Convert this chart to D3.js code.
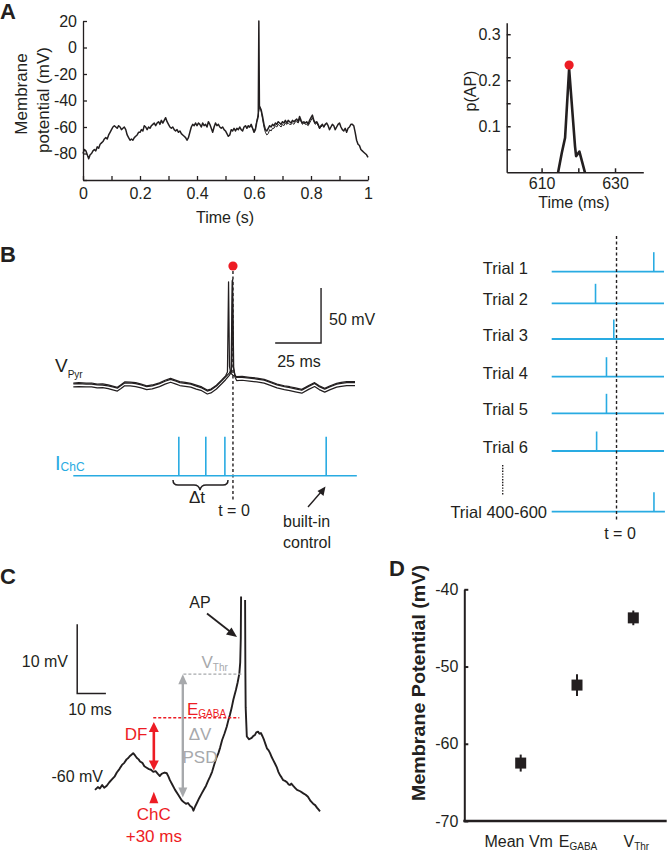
<!DOCTYPE html>
<html><head><meta charset="utf-8">
<script src="https://cdn.jsdelivr.net/npm/d3@7"></script>
<style>
body{margin:0;background:#fff}
svg{display:block}
text{font-family:"Liberation Sans",Arial,sans-serif}
</style>
</head><body>
<svg id="chart" width="668" height="853"></svg>
<script>
// ---------------- DATA ----------------
// Panel A (left): membrane potential traces, [time (s), mV]
const traceA1 = [[0,-80],[0.005,-77],[0.01,-78],[0.015,-81],[0.02,-84],[0.025,-81],[0.03,-80],[0.035,-78],[0.04,-77],[0.045,-78],[0.05,-75],[0.055,-76],[0.06,-73],[0.065,-72],[0.07,-71],[0.075,-69],[0.08,-68],[0.085,-69],[0.09,-66],[0.095,-64],[0.1,-62],[0.105,-60],[0.11,-59],[0.115,-60],[0.12,-61],[0.125,-59],[0.13,-60],[0.135,-62],[0.14,-61],[0.145,-60],[0.15,-62],[0.155,-66],[0.16,-68],[0.165,-70],[0.17,-69],[0.175,-70],[0.18,-68],[0.185,-67],[0.19,-66],[0.195,-64],[0.2,-64],[0.205,-62],[0.21,-63],[0.215,-59],[0.22,-60],[0.225,-62],[0.23,-60],[0.235,-61],[0.24,-59],[0.245,-58],[0.25,-57],[0.255,-59],[0.26,-57],[0.265,-56],[0.27,-58],[0.275,-55],[0.28,-57],[0.285,-55],[0.29,-53],[0.295,-56],[0.3,-58],[0.305,-60],[0.31,-61],[0.315,-60],[0.32,-62],[0.325,-63],[0.33,-62],[0.335,-64],[0.34,-63],[0.345,-65],[0.35,-66],[0.355,-67],[0.36,-68],[0.365,-70],[0.37,-68],[0.375,-64],[0.38,-60],[0.385,-58],[0.39,-59],[0.395,-57],[0.4,-59],[0.405,-57],[0.41,-58],[0.415,-60],[0.42,-57],[0.425,-59],[0.43,-58],[0.435,-60],[0.44,-56],[0.445,-58],[0.45,-61],[0.455,-64],[0.46,-60],[0.465,-57],[0.47,-59],[0.475,-58],[0.48,-60],[0.485,-61],[0.49,-60],[0.495,-62],[0.5,-63],[0.505,-65],[0.51,-67],[0.515,-66],[0.52,-62],[0.525,-63],[0.53,-61],[0.535,-63],[0.54,-61],[0.545,-62],[0.55,-60],[0.555,-62],[0.56,-63],[0.565,-60],[0.57,-59],[0.575,-61],[0.58,-59],[0.585,-60],[0.59,-58],[0.595,-61],[0.6,-64],[0.605,-62],[0.61,-56],[0.615,-52],[0.617,20],[0.619,-44],[0.625,-47],[0.63,-52],[0.635,-58],[0.64,-62],[0.645,-63],[0.65,-61],[0.655,-59],[0.66,-60],[0.665,-58],[0.67,-59],[0.675,-57],[0.68,-58],[0.685,-56],[0.69,-57],[0.695,-58],[0.7,-56],[0.705,-57],[0.71,-55],[0.715,-57],[0.72,-55],[0.725,-56],[0.73,-57],[0.735,-55],[0.74,-56],[0.745,-55],[0.75,-54],[0.755,-56],[0.76,-52],[0.765,-55],[0.77,-57],[0.775,-56],[0.78,-57],[0.785,-56],[0.79,-58],[0.795,-55],[0.8,-53],[0.805,-51],[0.81,-55],[0.815,-57],[0.82,-56],[0.825,-58],[0.83,-61],[0.835,-59],[0.84,-58],[0.845,-60],[0.85,-58],[0.855,-57],[0.86,-59],[0.865,-62],[0.87,-60],[0.875,-58],[0.88,-59],[0.885,-62],[0.89,-60],[0.895,-58],[0.9,-57],[0.905,-60],[0.91,-62],[0.915,-63],[0.92,-61],[0.925,-64],[0.93,-61],[0.935,-60],[0.94,-58],[0.945,-58],[0.95,-59],[0.955,-64],[0.96,-70],[0.965,-73],[0.97,-74],[0.975,-77],[0.98,-78],[0.985,-79],[0.99,-80],[0.995,-81],[1,-83]];
const traceA2 = [[0.58,-60],[0.585,-60],[0.59,-59],[0.595,-61],[0.6,-63],[0.605,-61],[0.61,-55],[0.615,-50],[0.62,-45],[0.625,-48],[0.63,-54],[0.635,-60],[0.64,-64],[0.645,-66],[0.65,-65],[0.655,-62],[0.66,-63],[0.665,-61],[0.67,-61],[0.675,-59],[0.68,-60],[0.685,-58],[0.69,-59],[0.695,-60],[0.7,-58],[0.705,-59],[0.71,-57],[0.715,-58],[0.72,-57],[0.725,-58],[0.73,-58],[0.735,-57],[0.74,-58],[0.745,-56],[0.75,-56],[0.755,-57],[0.76,-54],[0.765,-56],[0.77,-58],[0.775,-57],[0.78,-58],[0.785,-58],[0.79,-59],[0.795,-57],[0.8,-55],[0.805,-53],[0.81,-56],[0.815,-58],[0.82,-57],[0.825,-59],[0.83,-61],[0.835,-60],[0.84,-59],[0.845,-60],[0.85,-58]];
const ticksAx = [0,0.1,0.2,0.3,0.4,0.5,0.6,0.7,0.8,0.9,1];
const ticksAy = [-100,-80,-60,-40,-20,0,20];

// Panel A (right): spike probability
const pTime = [614.5,615.5,616.4,617.5,619.1,619.4,620.3,621.8];
const pAP   = [0,0.042,0.075,0.225,0.057,0.035,0.045,0];
const pPeak = [617.5,0.233];
const ticksPx = [610,620,630];
const ticksPy = [0.05,0.1,0.15,0.2,0.25,0.3];

// Panel B: pyramidal cell traces [ms, mV]
const pyr1 = [[-87,-65],[-84,-64.6],[-80,-65.2],[-77,-65],[-74,-66],[-71,-65.8],[-68,-66.8],[-65,-68],[-63,-68.9],[-61,-66.5],[-59,-64],[-56,-64.2],[-53,-64.7],[-50,-66],[-47,-67.6],[-44,-66.8],[-40,-64.8],[-37,-62.5],[-34,-60.8],[-31,-62.6],[-29,-63.8],[-26,-64.5],[-23,-65.3],[-20,-67],[-17,-68.6],[-14,-71.5],[-12,-70.5],[-9,-67],[-6,-62],[-4,-58.5],[-3,-55],[-2.4,27],[-1.9,-50],[-1.2,-56],[0,-58],[2,-59.3],[5,-59],[9,-59.8],[13,-60.5],[17,-61.6],[20,-63.5],[24,-66],[28,-67.5],[31,-68.4],[34,-69.5],[37.5,-70.8],[41,-67.5],[44.5,-64.7],[47,-67.5],[50,-69.8],[53,-67.5],[56.5,-65.3],[59,-64.5],[62,-63.8],[66.5,-63.8]];
const pyr2 = [[-87,-68.5],[-84,-68.2],[-80,-68.6],[-77,-68.5],[-74,-69.4],[-71,-69.3],[-68,-70.2],[-65,-71.5],[-63,-72.3],[-61,-70],[-59,-67.5],[-56,-67.6],[-53,-68.2],[-50,-69.4],[-47,-71],[-44,-70.3],[-40,-68.3],[-37,-66],[-34,-64.3],[-31,-66],[-29,-67.3],[-26,-68],[-23,-68.8],[-20,-70.5],[-17,-72],[-14,-75],[-12,-74],[-9,-70.5],[-6,-65.5],[-4,-62],[-2,-58],[-0.8,-55],[-0.2,29],[0.4,-52],[1.2,-60],[2,-62.8],[5,-62.5],[9,-63.3],[13,-64],[17,-65.1],[20,-67],[24,-69.5],[28,-71],[31,-71.9],[34,-73],[37.5,-74.3],[41,-71],[44.5,-68.2],[47,-71],[50,-73.3],[53,-71],[56.5,-68.8],[59,-68],[62,-67.3],[66.5,-67.3]];
const pyr3 = [[-87,-65.8],[-84,-65.6],[-80,-66],[-77,-66],[-74,-66.8],[-71,-66.9],[-68,-67.6],[-65,-68.8],[-63,-69.7],[-61,-67.3],[-59,-65],[-56,-65],[-53,-65.6],[-50,-66.8],[-47,-68.4],[-44,-67.6],[-40,-65.6],[-37,-63.4],[-34,-61.7],[-31,-63.4],[-29,-64.6],[-26,-65.3],[-23,-66.1],[-20,-67.8],[-17,-69.4],[-14,-72.3],[-12,-71.3],[-9,-67.8],[-6,-62.8],[-4,-59.3],[-2,-56],[-1,-53],[-0.4,28],[0.2,-50],[1,-57],[2,-60],[5,-59.8],[9,-60.6],[13,-61.4],[17,-62.4],[20,-64.3],[24,-66.8],[28,-68.3],[31,-69.2],[34,-70.3],[37.5,-71.6],[41,-68.3],[44.5,-65.5],[47,-68.3],[50,-70.6],[53,-68.3],[56.5,-66.1],[59,-65.3],[62,-64.6],[66.5,-64.6]];
const chcPulses = [-29.5,-14.8,-4.4,50.8];   // ms
const trialNames = ["Trial 1","Trial 2","Trial 3","Trial 4","Trial 5","Trial 6","Trial 400-600"];
const trialPulses = [20.4,-11.5,-1.5,-5.5,-5.5,-10.9,20.5]; // ms relative to AP

// Panel C: example trace [ms, mV]; null = gap at clipped spike top
const traceC = [[0,-61.9],[1,-61.5],[1.7,-61.7],[2.5,-61.2],[3.2,-61.6],[4.1,-61.3],[5,-60.8],[5.9,-60.4],[6.8,-60.0],[7.6,-59.4],[8.5,-58.9],[9.4,-58.3],[10.2,-58.0],[11,-57.5],[11.6,-57.3],[12.2,-57.0],[12.8,-56.8],[13.3,-56.6],[13.9,-56.9],[14.6,-57.3],[15.2,-57.5],[15.7,-57.8],[16.5,-58.0],[17.2,-58.5],[18,-58.7],[18.8,-58.9],[19.5,-59.0],[20.3,-59.3],[21.1,-59.2],[21.9,-59.6],[22.6,-59.9],[23.2,-59.6],[23.7,-59.5],[24.3,-59.4],[25,-59.5],[25.6,-60],[26.1,-60.5],[27,-61.2],[27.9,-61.9],[29,-62.6],[30.2,-63.4],[31,-63.7],[31.7,-63.9],[32.4,-63.8],[33.1,-64.2],[33.8,-64.4],[34.3,-64.9],[34.9,-64.3],[35.5,-63.8],[36.3,-63.1],[37.2,-62.4],[38,-61.8],[38.7,-61.3],[39.4,-60.6],[40.1,-60],[40.8,-59.3],[41.5,-58.3],[42.2,-57.4],[43,-56.6],[43.6,-55.8],[44.3,-54.7],[45.1,-53.8],[45.9,-52.8],[46.5,-51.8],[47,-51.1],[47.6,-50.1],[48.2,-48.9],[48.7,-48.1],[49.1,-47.5],[49.7,-46.4],[50.3,-45.1],[50.6,-43.5],[50.8,-40],[50.9,-34],null,[52.3,-34.5],[52.4,-45],[52.5,-50],[52.9,-54.2],[53.7,-54.6],[54.6,-54.4],[55.2,-54.1],[55.7,-54],[56.2,-53.6],[56.8,-53.5],[57.3,-53.8],[57.8,-53.7],[58.4,-54.2],[58.9,-54.7],[59.4,-55.3],[59.9,-55.9],[60.5,-56.2],[61,-56.6],[61.6,-57.2],[62.1,-57.6],[62.7,-58.1],[63.4,-58.7],[63.9,-59.3],[64.5,-59.8],[65,-60.1],[65.6,-60.5],[66.2,-60.6],[66.9,-60.8],[67.4,-61.1],[67.9,-61.2],[68.4,-61.0],[69,-61.3],[69.7,-61.6],[70.4,-61.9],[71.5,-62.1],[72.6,-62.4],[73.4,-62.6],[74.2,-62.9],[75.1,-63.5],[76,-63.9],[76.7,-64.1],[77.4,-64.5],[78,-64.8],[78.4,-65]];
const cEgaba = -51.5, cVthr = -45.2, cChC = 20.5;

// Panel D
const dCats  = ["Mean Vm","E_GABA","V_Thr"];
const dMeans = [-62.5,-52.4,-43.7];
const dErr   = [1.1,1.4,0.95];
const ticksDy = [-70,-60,-50,-40];

// ---------------- DRAW ----------------
const K="#231f20", CY="#29abe2", RED="#ed1c24", GR="#a7a9ac";
const svg = d3.select("#chart");
svg.append("rect").attr("width",668).attr("height",853).attr("fill","#fff");

function label(x,y,t){svg.append("text").attr("x",x).attr("y",y).attr("font-size",22).attr("font-weight","bold").attr("fill",K).text(t);}
label(0,19,"A"); label(0,262,"B"); label(0,584,"C"); label(389,576,"D");

function subText(g,x,y,main,sb,o){
  const t=g.append("text").attr("x",x).attr("y",y).attr("font-size",o.size).attr("fill",o.fill||K)
    .attr("text-anchor",o.anchor||"start");
  t.append("tspan").attr("fill",o.fill||K).text(main);
  t.append("tspan").attr("fill",o.fill||K).attr("font-size",o.sub).attr("dy",o.dy).text(sb);
  return t;
}
function txt(g,x,y,s,o={}){
  return g.append("text").attr("x",x).attr("y",y).attr("font-size",o.size||16)
    .attr("text-anchor",o.anchor||"start").attr("fill",o.fill||K).text(s);
}
function styleAxis(g,w){
  g.selectAll("path.domain").attr("stroke",K).attr("stroke-width",w);
  g.selectAll(".tick line").attr("stroke",K).attr("stroke-width",w);
  g.selectAll(".tick text").attr("fill",K).attr("font-size",16).attr("font-family","Liberation Sans, Arial, sans-serif");
}
function tri(g,x,yApex,dir,h,hw,fill){ // dir -1 pointing up, +1 pointing down
  g.append("path").attr("d",`M${x},${yApex} L${x-hw},${yApex-dir*h} L${x+hw},${yApex-dir*h} Z`).attr("fill",fill);
}

// ---- Panel A left
const gA = svg.append("g");
const xA = d3.scaleLinear().domain([0,1]).range([83,368]);
const yA = d3.scaleLinear().domain([-100,20]).range([180,21]);
const axAx = gA.append("g").attr("transform","translate(0,180)")
  .call(d3.axisBottom(xA).tickValues(ticksAx).tickSize(-4).tickSizeOuter(0).tickPadding(8)
  .tickFormat(d=>Math.round(d*10)%2===0?String(+d.toFixed(1)):""));
styleAxis(axAx,1.3);
const axAy = gA.append("g").attr("transform","translate(83,0)")
  .call(d3.axisLeft(yA).tickValues(ticksAy).tickSize(-4).tickSizeOuter(0).tickPadding(6)
  .tickFormat(d=>d===-100?"":String(d)));
styleAxis(axAy,1.3);
const lineA = d3.line().x(d=>xA(d[0])).y(d=>yA(d[1]));
gA.append("path").datum(traceA2).attr("d",lineA).attr("fill","none").attr("stroke",K).attr("stroke-width",1);
gA.append("path").datum(traceA1).attr("d",lineA).attr("fill","none").attr("stroke",K).attr("stroke-width",1.5).attr("stroke-linejoin","round");
gA.append("text").attr("transform","translate(27,94) rotate(-90)").attr("text-anchor","middle").attr("font-size",17).attr("fill",K).text("Membrane");
gA.append("text").attr("transform","translate(49,100) rotate(-90)").attr("text-anchor","middle").attr("font-size",17).attr("fill",K).text("potential (mV)");
txt(gA,225,223,"Time (s)",{anchor:"middle"});

// ---- Panel A right
const gP = svg.append("g");
const xP = d3.scaleLinear().domain([600.5,637.7]).range([506.7,643.3]);
const yP = d3.scaleLinear().domain([0,0.325]).range([172.3,22.7]);
const axPx = gP.append("g").attr("transform","translate(0,172.3)")
  .call(d3.axisBottom(xP).tickValues(ticksPx).tickSize(-4).tickSizeOuter(0).tickPadding(5)
  .tickFormat(d=>d===620?"":String(d)));
styleAxis(axPx,1.5);
const axPy = gP.append("g").attr("transform","translate(506.7,0)")
  .call(d3.axisLeft(yP).tickValues(ticksPy).tickSize(-4).tickSizeOuter(0).tickPadding(6)
  .tickFormat(d=>Math.round(d*100)%10===0?d.toFixed(1):""));
styleAxis(axPy,1.5);
gP.append("path").datum(pTime.map((t,i)=>[t,pAP[i]]))
  .attr("d",d3.line().x(d=>xP(d[0])).y(d=>yP(d[1])))
  .attr("fill","none").attr("stroke",K).attr("stroke-width",2.6).attr("stroke-linejoin","round");
gP.append("circle").attr("cx",xP(pPeak[0])).attr("cy",yP(pPeak[1])).attr("r",4.6).attr("fill",RED);
gP.append("text").attr("transform","translate(475.5,91) rotate(-90)").attr("text-anchor","middle").attr("font-size",16).attr("fill",K).text("p(AP)");
txt(gP,574,208,"Time (ms)",{anchor:"middle"});

// ---- Panel B left
const gB = svg.append("g");
const xB = d3.scaleLinear().domain([-87,66.5]).range([73.3,355]);
const yB = d3.scaleLinear().domain([-65,28]).range([383,280.7]);
const lineB = d3.line().x(d=>xB(d[0])).y(d=>yB(d[1]));
[pyr2,pyr3,pyr1].forEach(tr=>{
  gB.append("path").datum(tr).attr("d",lineB).attr("fill","none").attr("stroke",K).attr("stroke-width",1.25).attr("stroke-linejoin","round");
});
gB.append("line").attr("x1",xB(0)).attr("x2",xB(0)).attr("y1",271).attr("y2",501)
  .attr("stroke",K).attr("stroke-width",1.4).attr("stroke-dasharray","3,2.5");
gB.append("circle").attr("cx",xB(0)).attr("cy",266).attr("r",4.6).attr("fill",RED);
const sbT = 48, sbV = -28.6;
gB.append("path").attr("d",`M${xB(sbT-25)},${yB(sbV)} L${xB(sbT)},${yB(sbV)} L${xB(sbT)},${yB(sbV+50)}`)
  .attr("fill","none").attr("stroke",K).attr("stroke-width",1.4);
txt(gB,329,325,"50 mV");
txt(gB,299,367,"25 ms",{anchor:"middle"});
subText(gB,55,372,"V","Pyr",{size:19,sub:10,dy:6});
const yI = d3.scaleLinear().domain([0,1]).range([475.7,436.7]);
gB.append("line").attr("x1",xB(-87)).attr("x2",xB(67.5)).attr("y1",yI(0)).attr("y2",yI(0)).attr("stroke",CY).attr("stroke-width",1.6);
gB.selectAll("line.pulse").data(chcPulses).join("line").attr("class","pulse")
  .attr("x1",d=>xB(d)).attr("x2",d=>xB(d)).attr("y1",yI(0)).attr("y2",yI(1)).attr("stroke",CY).attr("stroke-width",1.6);
subText(gB,55,470,"I","ChC",{size:20,sub:12,fill:CY,dy:1});
gB.append("path").attr("d","M173,480 Q173,485 178,485 L194,485 Q199,485 200,490 Q201,485 206,485 L223,485 Q228,485 228,480")
  .attr("fill","none").attr("stroke",K).attr("stroke-width",1.5);
txt(gB,197,503,"Δt",{anchor:"middle",size:17});
txt(gB,234,516,"t = 0",{anchor:"middle"});
txt(gB,283,527,"built-in");
txt(gB,283,548,"control");
gB.append("line").attr("x1",308).attr("y1",507).attr("x2",321).attr("y2",492).attr("stroke",K).attr("stroke-width",1.4);
gB.append("path").attr("d","M325.5,486.5 L317.5,491 L323.5,496 Z").attr("fill",K);

// ---- Panel B right: trials
const gT = svg.append("g");
const xT = d3.scaleLinear().domain([-35.5,26]).range([551.7,664]);
const yT = d3.scaleOrdinal().domain(trialNames).range([271.7,303.3,339,376.7,413.3,451,511.7]);
trialNames.forEach((nm,i)=>{
  const y = yT(nm), last = i===trialNames.length-1;
  gT.append("line").attr("x1",xT(-35.5)).attr("x2",xT(last?26.5:26)).attr("y1",y).attr("y2",y).attr("stroke",CY).attr("stroke-width",1.8);
  gT.append("line").attr("x1",xT(trialPulses[i])).attr("x2",xT(trialPulses[i])).attr("y1",y).attr("y2",y-19.5).attr("stroke",CY).attr("stroke-width",1.6);
  txt(gT,last?547:528,y+(last?6:2),nm,{anchor:"end",size:16.5});
});
gT.append("line").attr("x1",xT(0)).attr("x2",xT(0)).attr("y1",236).attr("y2",521)
  .attr("stroke",K).attr("stroke-width",1.4).attr("stroke-dasharray","3,2.5");
gT.append("line").attr("x1",502.7).attr("x2",502.7).attr("y1",465).attr("y2",495)
  .attr("stroke",K).attr("stroke-width",1.4).attr("stroke-dasharray","1.4,1.4");
txt(gT,620,539,"t = 0",{anchor:"middle"});

// ---- Panel C
const gC = svg.append("g");
const xC = d3.scaleLinear().domain([0,78.4]).range([95,320]);
const yC = d3.scaleLinear().domain([-60,-50]).range([776.7,707.4]);
gC.append("path").datum(traceC).attr("d",d3.line().defined(d=>d!==null).x(d=>xC(d[0])).y(d=>yC(d[1])))
  .attr("fill","none").attr("stroke",K).attr("stroke-width",1.9).attr("stroke-linejoin","round");
gC.append("path").attr("d",`M${xC(-6.2)},${yC(-38)} L${xC(-6.2)},${yC(-48)} L${xC(3.8)},${yC(-48)}`)
  .attr("fill","none").attr("stroke",K).attr("stroke-width",1.5);
txt(gC,68,667,"10 mV",{anchor:"end"});
txt(gC,90,715,"10 ms",{anchor:"middle"});
txt(gC,103,782,"-60 mV",{anchor:"end"});
txt(gC,200,608,"AP",{anchor:"middle"});
gC.append("line").attr("x1",207).attr("y1",613.5).attr("x2",230).attr("y2",631.5).attr("stroke",K).attr("stroke-width",1.8);
gC.append("path").attr("d","M237,637 L226,634.5 L231.5,627.5 Z").attr("fill",K);
gC.append("line").attr("x1",xC(30.8)).attr("x2",xC(51.1)).attr("y1",yC(cVthr)).attr("y2",yC(cVthr))
  .attr("stroke",GR).attr("stroke-width",1.4).attr("stroke-dasharray","3,2");
subText(gC,201.5,668,"V","Thr",{size:17,sub:10,fill:GR,dy:3});
gC.append("line").attr("x1",xC(20.3)).attr("x2",xC(50.3)).attr("y1",yC(cEgaba)).attr("y2",yC(cEgaba))
  .attr("stroke",RED).attr("stroke-width",1.4).attr("stroke-dasharray","3,2");
subText(gC,187,715,"E","GABA",{size:17,sub:10,fill:RED,dy:2});
const gx = xC(30.6), gTop = yC(cVthr), gBot = yC(-63);
gC.append("line").attr("x1",gx).attr("x2",gx).attr("y1",gTop+6).attr("y2",gBot-6).attr("stroke",GR).attr("stroke-width",2.4);
tri(gC,gx,gTop,-1,10,4.5,GR); tri(gC,gx,gBot,1,10,4.5,GR);
txt(gC,200,740,"ΔV",{anchor:"middle",size:17,fill:GR});
txt(gC,200,763,"PSD",{anchor:"middle",size:17,fill:GR});
const rx = xC(cChC), rTop = yC(-52.1), rBot = yC(-59.1);
gC.append("line").attr("x1",rx).attr("x2",rx).attr("y1",rTop+6).attr("y2",rBot-6).attr("stroke",RED).attr("stroke-width",2.6);
tri(gC,rx,rTop,-1,10,5,RED); tri(gC,rx,rBot,1,10,5,RED);
txt(gC,136,740,"DF",{anchor:"middle",size:17,fill:RED});
tri(gC,rx,791.7,-1,11.5,4.5,RED);
txt(gC,rx,820,"ChC",{anchor:"middle",size:17,fill:RED});
txt(gC,rx,842,"+30 ms",{anchor:"middle",size:17,fill:RED});

// ---- Panel D
const gD = svg.append("g");
const xD = d3.scalePoint().domain(dCats).range([520.7,633.3]);
const yD = d3.scaleLinear().domain([-70,-40]).range([821,589.3]);
const axDy = gD.append("g").attr("transform","translate(464.3,0)")
  .call(d3.axisLeft(yD).tickValues(ticksDy).tickSize(-4).tickSizeOuter(0).tickPadding(6).tickFormat(d=>String(d)));
styleAxis(axDy,2);
gD.append("line").attr("x1",463.3).attr("x2",666.7).attr("y1",821).attr("y2",821).attr("stroke",K).attr("stroke-width",2.6);
dCats.forEach((c,i)=>{
  const x = xD(c);
  gD.append("line").attr("x1",x).attr("x2",x).attr("y1",yD(dMeans[i]-dErr[i])).attr("y2",yD(dMeans[i]+dErr[i])).attr("stroke",K).attr("stroke-width",2);
  gD.append("rect").attr("x",x-5.5).attr("y",yD(dMeans[i])-5.5).attr("width",11).attr("height",11).attr("fill",K);
});
txt(gD,xD("Mean Vm")-2,847,"Mean Vm",{anchor:"middle"});
subText(gD,xD("E_GABA")+1,847,"E","GABA",{size:16,sub:10,dy:3,anchor:"middle"});
subText(gD,xD("V_Thr")+3,847,"V","Thr",{size:16,sub:10,dy:3,anchor:"middle"});
gD.append("text").attr("transform","translate(425,683) rotate(-90)").attr("text-anchor","middle").attr("fill",K)
  .attr("font-size",18).attr("font-weight","bold").attr("textLength",236).attr("lengthAdjust","spacingAndGlyphs")
  .text("Membrane Potential (mV)");
</script>
</body></html>
